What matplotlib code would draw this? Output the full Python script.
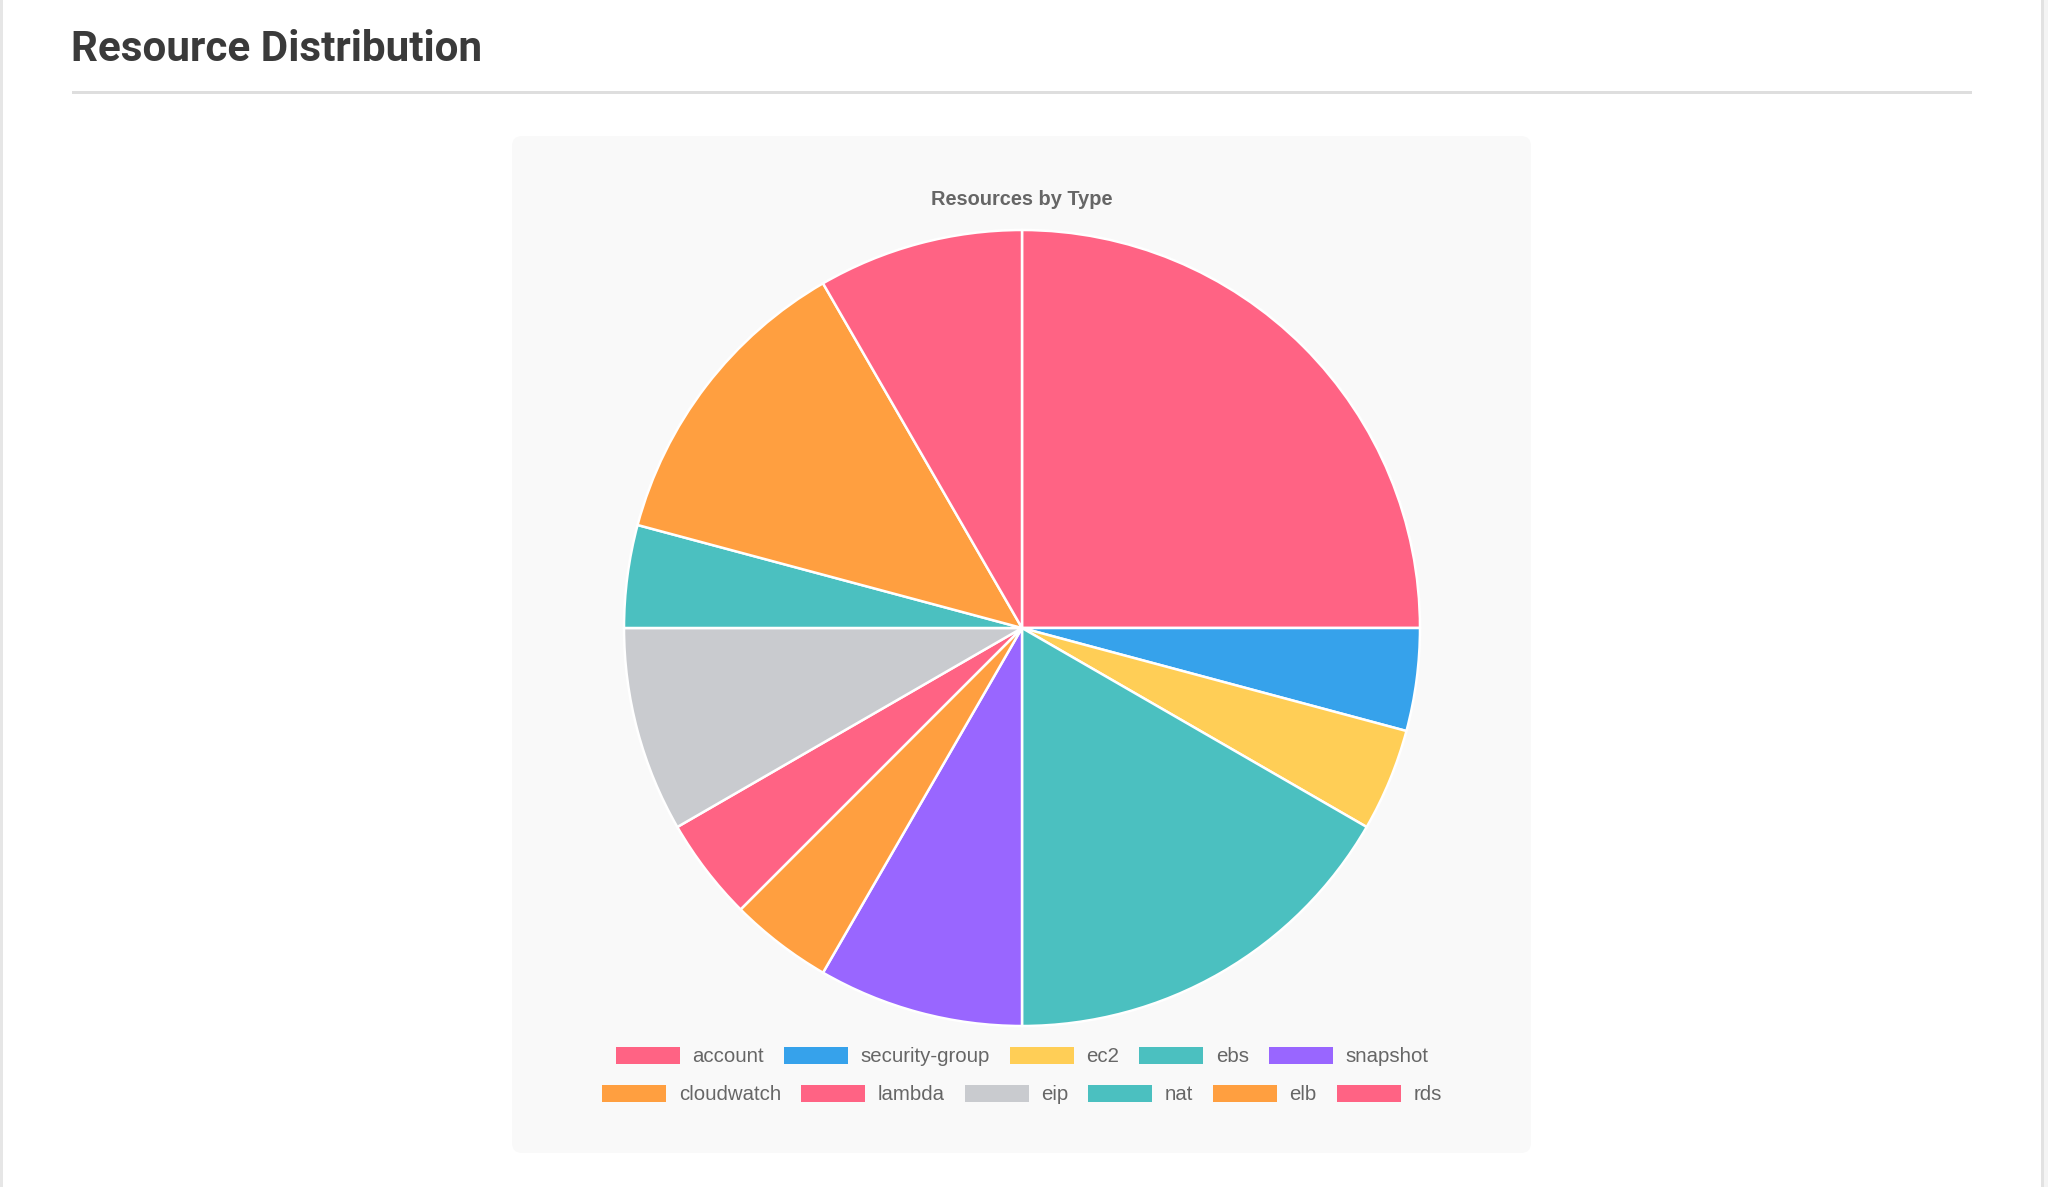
import matplotlib
matplotlib.use("Agg")
import matplotlib.pyplot as plt
from matplotlib.patches import FancyBboxPatch, Rectangle

# ---- data ----
categories = ["account", "security-group", "ec2", "ebs", "snapshot",
              "cloudwatch", "lambda", "eip", "nat", "elb", "rds"]
counts = [6, 1, 1, 4, 2, 1, 1, 2, 1, 3, 2]
colors = ["#FF6384", "#36A2EB", "#FFCE56", "#4BC0C0", "#9966FF",
          "#FF9F40", "#FF6384", "#C9CBCF", "#4BC0C0", "#FF9F40", "#FF6384"]
page_title = "Resource Distribution"
chart_title = "Resources by Type"
legend_rows = [categories[:5], categories[5:]]

W, H = 2048, 1187
DPI = 100
fig = plt.figure(figsize=(W / DPI, H / DPI), dpi=DPI)
fig.patch.set_facecolor("white")

# overlay axes in pixel coordinates
bg = fig.add_axes([0, 0, 1, 1], zorder=0)
bg.set_xlim(0, W)
bg.set_ylim(H, 0)
bg.axis("off")

# page borders
bg.add_patch(Rectangle((0, 0), 3, H, color="#e6e6e6", lw=0))
bg.add_patch(Rectangle((2041, 0), 3, H, color="#e2e2e2", lw=0))
bg.add_patch(Rectangle((2044, 0), 4, H, color="#f4f4f4", lw=0))

# page title and rule
bg.text(71, 61, page_title, fontsize=30.4, fontweight="bold", color="#3a3a3a",
        family=["Roboto", "DejaVu Sans"], ha="left", va="baseline")
bg.add_patch(Rectangle((72, 90.5), 1900, 3, color="#dedede", lw=0))

# card
bg.add_patch(FancyBboxPatch((512, 136), 1019, 1017,
                            boxstyle="round,pad=0,rounding_size=10",
                            fc="#f9f9f9", ec="none"))

# chart title
bg.text(1022, 199.5, chart_title, fontsize=14.4, fontweight="bold", color="#666666",
        family=["Liberation Sans", "DejaVu Sans"], ha="center", va="center")

# pie
cx, cy, r = 1022, 628, 398
pax = fig.add_axes([(cx - r) / W, (H - cy - r) / H, 2 * r / W, 2 * r / H], zorder=2)
pax.set_facecolor("none")
pax.pie(counts, colors=colors, startangle=90, counterclock=False, radius=1,
        wedgeprops=dict(edgecolor="white", linewidth=1.8))
pax.set_xlim(-1.0, 1.0)
pax.set_ylim(-1.0, 1.0)
pax.axis("off")

# legend (manual, Chart.js style)
box_w, box_h = 64, 17
gap_text, gap_item = 12.5, 20
row_y = [1055.5, 1093]
renderer = fig.canvas.get_renderer()
leg_font = dict(fontsize=14.7, color="#666666", family=["Liberation Sans", "DejaVu Sans"])
idx = 0
for row, y in zip(legend_rows, row_y):
    texts = []
    widths = []
    for name in row:
        t = bg.text(0, y, name, ha="left", va="center", **leg_font)
        bb = t.get_window_extent(renderer=renderer)
        texts.append(t)
        widths.append(bb.width)
    total = sum(box_w + gap_text + w for w in widths) + gap_item * (len(row) - 1)
    x = cx - total / 2
    for t, w in zip(texts, widths):
        bg.add_patch(Rectangle((x, y - box_h / 2), box_w, box_h,
                               fc=colors[idx], ec="none"))
        t.set_position((x + box_w + gap_text, y + 1))
        x += box_w + gap_text + w + gap_item
        idx += 1

fig.savefig("out.png", dpi=DPI, facecolor="white")
